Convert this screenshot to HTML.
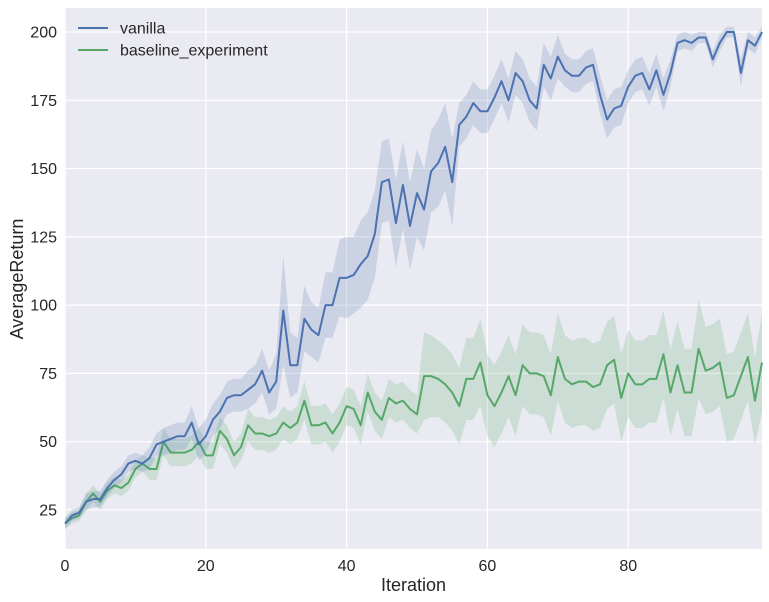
<!DOCTYPE html>
<html><head><meta charset="utf-8"><style>
body{margin:0;background:#fff;}
svg{display:block;font-family:"Liberation Sans","DejaVu Sans",sans-serif;}
</style></head><body>
<svg id="chart" width="769" height="602"></svg>
<script>
const iterations = Array.from({length:100},(_, i)=>i);
const vanillaMean = [20,23,24,28,29,29,33,36,38,42,43,42,44,49,50,51,52,52,57,49,52,58,61,66,67,67,69,71,76,68,72,98,78,78,95,91,89,100,100,110,110,111,115,118,126,145,146,130,144,129,141,135,149,152,158,145,166,169,174,171,171,176,182,175,185,182,175,172,188,183,191,186,184,184,187,188,177,168,172,173,180,184,185,179,186,177,185,196,197,196,198,198,190,196,200,200,185,197,195,200];
const vanillaSpread = [2,2,2,3,3,3,3,3,3,3,3,3,4,4,5,5,5,5,6,6,6,6,6,6,6,6,7,7,8,8,10,20,12,10,12,10,10,12,12,14,15,14,16,16,16,15,15,16,16,16,16,15,15,16,16,16,8,8,8,8,8,8,8,8,8,8,8,8,8,8,8,6,6,6,6,6,7,7,7,7,6,6,6,6,6,6,5,3,3,3,2,2,3,3,2,2,5,3,3,2];
const baselineMean = [20,22,23,28,31,28,32,34,33,35,40,42,40,40,50,46,46,46,47,50,45,45,54,51,45,48,56,53,53,52,53,57,55,57,65,56,56,57,53,57,63,62,56,68,61,58,66,64,65,62,60,74,74,73,71,68,63,73,73,79,67,63,68,74,67,78,75,75,74,67,81,73,71,72,72,70,71,78,80,66,75,71,71,73,73,82,68,78,68,68,84,76,77,79,66,67,74,81,65,79];
const baselineSpread = [2,2,2,3,3,3,3,3,3,3,3,3,4,4,5,5,5,5,5,5,5,5,5,5,5,5,6,6,6,6,6,6,6,6,7,7,7,7,7,7,7,7,7,7,7,7,7,7,7,7,7,16,15,14,14,14,14,15,15,16,15,15,15,15,15,15,15,15,15,15,16,16,16,16,16,16,16,16,16,16,16,16,16,16,16,16,16,16,16,16,18,16,16,16,16,16,16,16,16,18];
const xTicks = [0,20,40,60,80];
const yTicks = [25,50,75,100,125,150,175,200];

const svg = document.getElementById('chart');
const NS = 'http://www.w3.org/2000/svg';
const L=65,R=762,T=8,B=549;
const xmin=0,xmax=99,ymin=10.7,ymax=208.8;
const xs = v => L + (v-xmin)/(xmax-xmin)*(R-L);
const ys = v => B - (v-ymin)/(ymax-ymin)*(B-T);
function mk(tag, attrs){const e=document.createElementNS(NS,tag);for(const k in attrs)e.setAttribute(k,attrs[k]);svg.appendChild(e);return e;}

const bg = mk('rect',{x:L,y:T,width:R-L,height:B-T,fill:'#eaeaf2'});



yTicks.forEach(t=>{
  const g = mk('line',{x1:L,x2:R,y1:ys(t),y2:ys(t),stroke:'#fff','stroke-width':1.2});
  
  
  const tx = mk('text',{x:L-8,y:ys(t)+5.5,'text-anchor':'end','font-size':16,fill:'#262626'});
  tx.textContent=t;
  
  
});
xTicks.forEach(t=>{
  const g = mk('line',{x1:xs(t),x2:xs(t),y1:T,y2:B,stroke:'#fff','stroke-width':1.2});
  
  
  const tx = mk('text',{x:xs(t),y:B+22,'text-anchor':'middle','font-size':16,fill:'#262626'});
  tx.textContent=t;
  
  
});

function series(mean, spread, color, name){
  let up = iterations.map(i=>xs(i)+','+ys(mean[i]+spread[i]));
  let lo = iterations.map(i=>xs(i)+','+ys(mean[i]-spread[i])).reverse();
  const band = mk('polygon',{points:up.concat(lo).join(' '),fill:color,'fill-opacity':0.2,stroke:'none'});
  
  
  const line = mk('polyline',{points:iterations.map(i=>xs(i)+','+ys(mean[i])).join(' '),fill:'none',stroke:color,'stroke-width':2,'stroke-linejoin':'round'});
  
  
}
series(baselineMean, baselineSpread, '#55a868', 'baseline-experiment');
series(vanillaMean, vanillaSpread, '#4c72b0', 'vanilla');

const xt = mk('text',{x:(L+R)/2,y:591,'text-anchor':'middle','font-size':18,fill:'#262626'});
xt.textContent='Iteration';


const yt = mk('text',{x:23,y:279,'text-anchor':'middle','font-size':18,fill:'#262626',transform:'rotate(-90 23 279)'});
yt.textContent='AverageReturn';



[['vanilla','#4c72b0',28],['baseline_experiment','#55a868',50]].forEach(([lab,c,y])=>{
  const ln = mk('line',{x1:78,x2:108,y1:y,y2:y,stroke:c,'stroke-width':2});
  
  
  const tx = mk('text',{x:120,y:y+5.5,'font-size':16,fill:'#262626'});
  tx.textContent=lab;
  
  
});
</script>
</body></html>
